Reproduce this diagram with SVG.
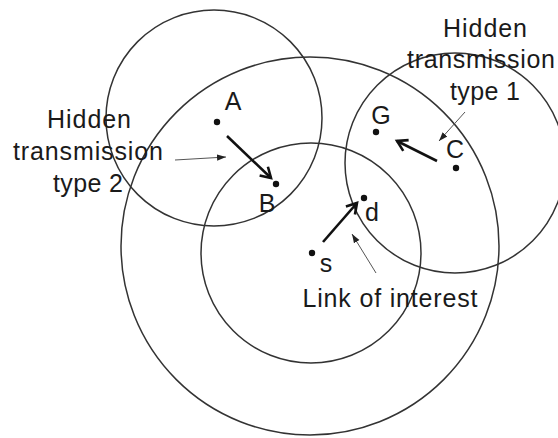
<svg xmlns="http://www.w3.org/2000/svg" width="558" height="438" viewBox="0 0 558 438">
<style>
.rng{fill:none;stroke:#333;stroke-width:1.5}
.lbl{font-family:"Liberation Sans",Arial,sans-serif;font-size:25px;fill:#1a1a1a;text-anchor:middle}
.dot{fill:#111}
.link{stroke:#111;stroke-width:2.6;fill:none}
.ptr{stroke:#555;stroke-width:1;fill:none}
</style>
<defs>
<marker id="open" markerUnits="userSpaceOnUse" markerWidth="16" markerHeight="16" viewBox="-12 -8 14 16" refX="0" refY="0" orient="auto">
<path d="M-10,-6 L0,0 L-10,6" fill="none" stroke="#111" stroke-width="2.6"/>
</marker>
<marker id="tri" markerUnits="userSpaceOnUse" markerWidth="10" markerHeight="8" viewBox="-9 -4 10 8" refX="0" refY="0" orient="auto">
<path d="M-9,-3.2 L0,0 L-9,3.2 Z" fill="#222"/>
</marker>
</defs>
<rect width="558" height="438" fill="#fff"/>
<g id="ranges">
<circle class="rng" cx="214" cy="118" r="108"/>
<circle class="rng" cx="310" cy="246" r="189"/>
<circle class="rng" cx="311" cy="253" r="110"/>
<circle class="rng" cx="455" cy="163" r="110"/>
</g>
<g id="node-A"><circle class="dot" cx="217" cy="122" r="3.2"/><text class="lbl" x="233" y="110">A</text></g>
<g id="node-B"><circle class="dot" cx="276" cy="184" r="3.2"/><text class="lbl" x="267" y="212">B</text></g>
<g id="node-G"><circle class="dot" cx="376" cy="132" r="3.2"/><text class="lbl" x="381" y="124">G</text></g>
<g id="node-C"><circle class="dot" cx="456" cy="168" r="3.2"/><text class="lbl" x="455" y="158">C</text></g>
<g id="node-d"><circle class="dot" cx="364" cy="198" r="3.2"/><text class="lbl" x="372" y="221">d</text></g>
<g id="node-s"><circle class="dot" cx="312" cy="253" r="3.2"/><text class="lbl" x="326" y="272">s</text></g>
<g id="connectors">
<line class="link" x1="227" y1="136" x2="271" y2="178" marker-end="url(#open)"/>
<line class="link" x1="437" y1="161" x2="397" y2="141" marker-end="url(#open)"/>
<line class="link" x1="323" y1="242" x2="357" y2="203" marker-end="url(#open)"/>
<line class="ptr" x1="175" y1="160" x2="226" y2="157" marker-end="url(#tri)"/>
<line class="ptr" x1="465" y1="112" x2="439" y2="141" marker-end="url(#tri)"/>
<line class="ptr" x1="376" y1="273" x2="352" y2="234" marker-end="url(#tri)"/>
</g>
<g id="label-type2">
<text class="lbl" x="89" y="128" textLength="84">Hidden</text>
<text class="lbl" x="88" y="160" textLength="150">transmission</text>
<text class="lbl" x="88" y="192" textLength="70">type 2</text>
</g>
<g id="label-type1">
<text class="lbl" x="485" y="37" textLength="84">Hidden</text>
<text class="lbl" x="481" y="68" textLength="148">transmission</text>
<text class="lbl" x="485" y="100" textLength="70">type 1</text>
</g>
<g id="label-link">
<text class="lbl" x="390" y="307" textLength="175">Link of interest</text>
</g>
</svg>
